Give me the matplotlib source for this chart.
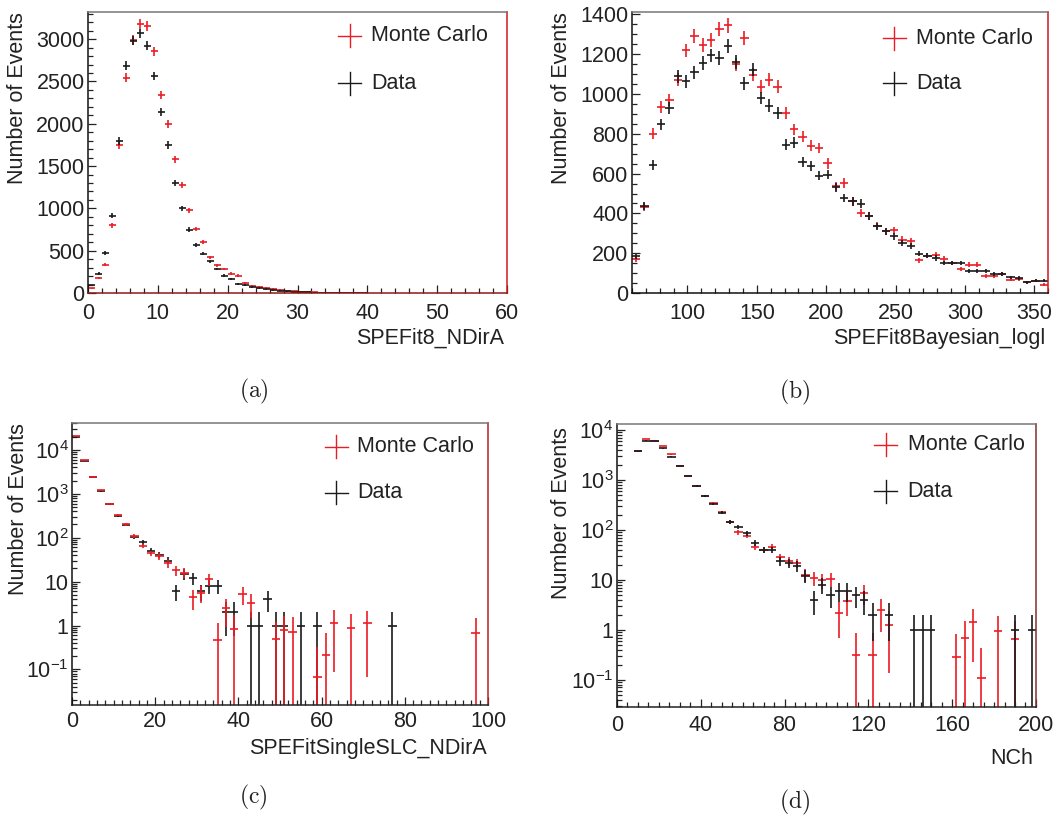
import numpy as np
import matplotlib
matplotlib.use('Agg')
import matplotlib.pyplot as plt
from matplotlib.ticker import MultipleLocator, LogLocator, FuncFormatter, NullFormatter

plt.rcParams['font.family'] = ['Liberation Sans', 'DejaVu Sans']
plt.rcParams['mathtext.fontset'] = 'custom'
plt.rcParams['mathtext.rm'] = 'Liberation Sans'
plt.rcParams['mathtext.it'] = 'Liberation Sans:italic'
plt.rcParams['mathtext.bf'] = 'Liberation Sans:bold'
plt.rcParams['axes.unicode_minus'] = True

RED = '#ec1c24'
BLACK = '#1a1a1a'
FS = 15.5

# (a) SPEFit8_NDirA, bin width 1
ndira_x = np.arange(40) + 0.5
ndira_mc = [55, 174, 332, 801, 1749, 2546, 2990, 3178, 3158, 2854,
            2341, 1994, 1579, 1275, 979, 758, 604, 422, 328, 284,
            229, 205, 118, 87, 71, 60, 48, 36, 27, 20,
            15, 11, 8, 6, 4, 3, 2, 2, 1, 1]
ndira_data = [90, 230, 474, 916, 1796, 2684, 2980, 3067, 2921, 2566,
              2140, 1749, 1303, 999, 750, 572, 466, 375, 284, 205,
              166, 110, 99, 71, 55, 45, 35, 26, 19, 14,
              10, 8, 6, 4, 3, 2, 2, 1, 1, 1]

# (b) SPEFit8Bayesian_logl, bin width 6
logl_x = np.arange(63, 360, 6)
logl_mc = [171, 433, 800, 936, 969, 1073, 1219, 1291, 1246, 1271,
           1328, 1345, 1149, 1283, 1098, 1036, 1073, 1036, 905, 822,
           785, 741, 729, 651, 537, 553, 461, 402, 389, 339,
           310, 315, 268, 260, 164, 188, 193, 171, 151, 121,
           143, 143, 87, 84, 97, 67, 70, 54, 62, 42]
logl_data = [184, 436, 645, 847, 931, 1090, 1065, 1110, 1157, 1194,
             1182, 1241, 1160, 1053, 1123, 981, 942, 905, 746, 755,
             659, 637, 590, 595, 532, 478, 461, 449, 386, 335,
             310, 285, 252, 238, 198, 188, 176, 151, 151, 151,
             109, 109, 109, 96, 97, 79, 75, 54, 62, 62]

# (c) SPEFitSingleSLC_NDirA, bin width 2
slc_mc_x = [1, 3, 5, 7, 9, 11, 13, 15, 17, 19, 21, 23, 25, 27, 29, 31, 33, 35,
            37, 39, 41, 43, 49, 51, 53, 59, 61, 63, 67, 71, 97]
slc_mc = [21000, 5900, 2450, 1200, 600, 330, 200, 110, 65, 44, 38, 26, 18, 16,
          4.35, 5.6, 11.4, 0.47, 2.5, 0.82, 5.3, 3.3, 0.5, 0.77, 0.73, 0.066,
          0.21, 1.17, 0.9, 1.13, 0.66]
slc_data_x = [1, 3, 5, 7, 9, 11, 13, 15, 17, 19, 21, 23, 25, 27, 29, 31, 33, 35,
              37, 39, 43, 45, 47, 49, 51, 55, 59, 77]
slc_data = [20000, 5700, 2380, 1160, 580, 318, 194, 103, 78, 50, 41, 30, 6, 15,
            12, 6, 8, 8, 2, 2, 1, 1, 4, 1, 1, 1, 1, 1]

# (d) NCh, bin width 4
nch_mc_x = [10, 14, 18, 22, 26, 30, 34, 38, 42, 46, 50, 54, 58, 62, 66, 70, 74,
            78, 82, 86, 90, 94, 98, 102, 106, 110, 114, 118, 122, 126, 130,
            162, 166, 170, 174, 182, 190]
nch_mc = [3800, 6600, 6150, 4800, 3250, 1940, 1200, 770, 475, 340, 225, 146, 89,
          77, 46, 40, 45, 28, 24, 22, 12.6, 10.8, 9.7, 10.3, 2.15, 3.8, 0.316,
          5.4, 0.316, 2.5, 1.26, 0.28, 0.68, 1.42, 0.108, 0.95, 0.66]
nch_data_x = [10, 14, 18, 22, 26, 30, 34, 38, 42, 46, 50, 54, 58, 62, 66, 70, 74,
              78, 82, 86, 90, 94, 98, 102, 106, 110, 114, 118, 122, 130,
              142, 146, 150, 190, 198]
nch_data = [3750, 6150, 6000, 4270, 2930, 1910, 1180, 760, 470, 335, 222, 146, 113,
            86, 54, 40, 40, 24, 22, 19, 12, 4, 8, 5, 6, 6, 5, 4, 2, 2,
            1, 1, 1, 1, 1]

W, H = 1053, 825


def draw_hist(ax, x, y, half, color):
    x = np.asarray(x, float)
    y = np.asarray(y, float)
    err = np.sqrt(y)
    low = np.minimum(err, y * (1 - 1e-7))
    ax.errorbar(x, y, xerr=half, yerr=[low, err], fmt='none', ecolor=color,
                elinewidth=1.2, capsize=0)


def draw_legend(ax, pos, hx, tx, ys):
    w_px = pos[2] * W
    h_px = pos[3] * H
    dx = 11.5 / w_px
    dy = 11.5 / h_px
    for (label, color), y in zip([('Monte Carlo', RED), ('Data', BLACK)], ys):
        ax.plot([hx - dx, hx + dx], [y, y], color=color, lw=1.0,
                transform=ax.transAxes, clip_on=False)
        ax.plot([hx, hx], [y - dy, y + dy], color=color, lw=1.0,
                transform=ax.transAxes, clip_on=False)
        ax.text(tx, y, label, transform=ax.transAxes, fontsize=FS,
                ha='left', va='center', color='#222222')


def style_axes(ax, xpad, right_color, bottom_color):
    ax.tick_params(which='both', direction='in', top=False, right=False,
                   labelsize=FS, colors='#222222')
    ax.tick_params(axis='x', which='both', pad=xpad)
    ax.tick_params(axis='y', which='both', pad=2.5)
    ax.tick_params(which='major', length=6, width=0.9)
    ax.tick_params(which='minor', length=3.5, width=0.9)
    ax.spines['top'].set_color('#777777')
    ax.spines['left'].set_color('#111111')
    ax.spines['right'].set_color(right_color)
    ax.spines['bottom'].set_color(bottom_color)
    for s in ax.spines.values():
        s.set_linewidth(1.1)


def log_label(v, pos):
    e = int(round(np.log10(v)))
    if e == 0:
        return '1'
    if e == 1:
        return '10'
    return r'$\mathregular{10^{%d}}$' % e


fig = plt.figure(figsize=(W / 100, H / 100), dpi=100)

pos_a = [0.0836, 0.6448, 0.3979, 0.3406]
pos_b = [0.6002, 0.6448, 0.3951, 0.3406]
pos_c = [0.0684, 0.1455, 0.3951, 0.3418]
pos_d = [0.5859, 0.1430, 0.3979, 0.3431]

# (a)
ax = fig.add_axes(pos_a)
draw_hist(ax, ndira_x, ndira_mc, 0.5, RED)
draw_hist(ax, ndira_x, ndira_data, 0.5, BLACK)
ax.set_xlim(0, 60)
ax.set_ylim(0, 3320)
ax.xaxis.set_major_locator(MultipleLocator(10))
ax.xaxis.set_minor_locator(MultipleLocator(2))
ax.yaxis.set_major_locator(MultipleLocator(500))
ax.yaxis.set_minor_locator(MultipleLocator(100))
style_axes(ax, 7, '#d01820', '#8b1a1a')
ax.text(0.993, -0.124, 'SPEFit8_NDirA', transform=ax.transAxes, fontsize=FS,
        ha='right', va='top', color='#222222')
ax.text(-0.143, 1.0, 'Number of Events', transform=ax.transAxes, fontsize=FS,
        rotation=90, ha='right', va='top', color='#222222')
draw_legend(ax, pos_a, 0.625, 0.675, [0.915, 0.747])

# (b)
ax = fig.add_axes(pos_b)
draw_hist(ax, logl_x, logl_mc, 3, RED)
draw_hist(ax, logl_x, logl_data, 3, BLACK)
ax.set_xlim(60, 360)
ax.set_ylim(0, 1412)
ax.xaxis.set_major_locator(MultipleLocator(50))
ax.xaxis.set_minor_locator(MultipleLocator(10))
ax.yaxis.set_major_locator(MultipleLocator(200))
ax.yaxis.set_minor_locator(MultipleLocator(50))
style_axes(ax, 7, '#d01820', '#111111')
ax.text(0.993, -0.124, 'SPEFit8Bayesian_logl', transform=ax.transAxes,
        fontsize=FS, ha='right', va='top', color='#222222')
ax.text(-0.144, 1.0, 'Number of Events', transform=ax.transAxes, fontsize=FS,
        rotation=90, ha='right', va='top', color='#222222')
draw_legend(ax, pos_b, 0.6305, 0.682, [0.906, 0.746])

# (c)
ax = fig.add_axes(pos_c)
ax.set_yscale('log')
draw_hist(ax, slc_data_x, slc_data, 1, BLACK)
draw_hist(ax, slc_mc_x, slc_mc, 1, RED)
ax.set_xlim(0, 100)
ax.set_ylim(0.0155, 41000)
ax.xaxis.set_major_locator(MultipleLocator(20))
ax.xaxis.set_minor_locator(MultipleLocator(2))
ax.yaxis.set_major_locator(LogLocator(base=10, numticks=12))
ax.yaxis.set_minor_locator(LogLocator(base=10, subs=np.arange(2, 10), numticks=12))
ax.yaxis.set_major_formatter(FuncFormatter(log_label))
ax.yaxis.set_minor_formatter(NullFormatter())
style_axes(ax, 4.5, '#b02028', '#222222')
ax.text(0.998, -0.116, 'SPEFitSingleSLC_NDirA', transform=ax.transAxes,
        fontsize=FS, ha='right', va='top', color='#222222')
ax.text(-0.103, 1.0, 'Number of Events', transform=ax.transAxes, fontsize=FS,
        rotation=90, ha='right', va='top', color='#222222')
draw_legend(ax, pos_c, 0.635, 0.686, [0.916, 0.753])

# (d)
ax = fig.add_axes(pos_d)
ax.set_yscale('log')
draw_hist(ax, nch_mc_x, nch_mc, 2, RED)
draw_hist(ax, nch_data_x, nch_data, 2, BLACK)
ax.set_xlim(0, 200)
ax.set_ylim(0.0284, 13200)
ax.xaxis.set_major_locator(MultipleLocator(40))
ax.xaxis.set_minor_locator(MultipleLocator(5))
ax.yaxis.set_major_locator(LogLocator(base=10, numticks=12))
ax.yaxis.set_minor_locator(LogLocator(base=10, subs=np.arange(2, 10), numticks=12))
ax.yaxis.set_major_formatter(FuncFormatter(log_label))
ax.yaxis.set_minor_formatter(NullFormatter())
style_axes(ax, 5.5, '#803030', '#222222')
ax.text(0.993, -0.143, 'NCh', transform=ax.transAxes, fontsize=FS,
        ha='right', va='top', color='#222222')
ax.text(-0.107, 0.99, 'Number of Events', transform=ax.transAxes, fontsize=FS,
        rotation=90, ha='right', va='top', color='#222222')
draw_legend(ax, pos_d, 0.642, 0.694, [0.926, 0.763])

# panel captions
for lab, x, y in [('(a)', 254, 391), ('(b)', 795, 392),
                  ('(c)', 253, 797), ('(d)', 795, 802)]:
    fig.text(x / W, 1 - y / H, r'$\mathrm{%s}$' % lab, math_fontfamily='cm',
             fontsize=17, ha='center', va='center', color='#222222')

fig.savefig('out.png', dpi=100)
